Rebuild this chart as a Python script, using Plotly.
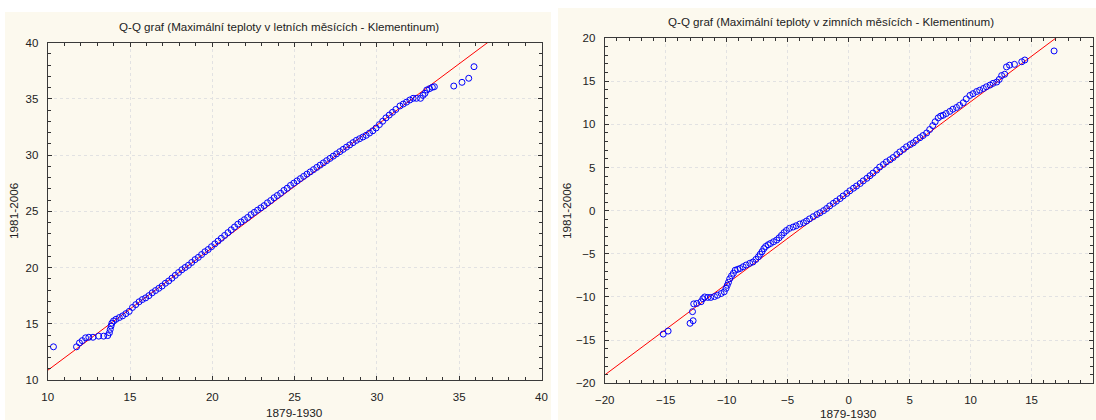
import plotly.graph_objects as go

# ---------------- data ----------------
summer_x = [10.35, 11.75, 11.93, 12.1, 12.3, 12.5, 12.75, 13.1, 13.4, 13.65, 13.75, 13.8, 13.85, 13.9,
            14.0, 14.15, 14.35, 14.55, 14.75, 14.95, 15.15, 15.35, 15.55, 15.75, 15.95, 16.15, 16.35,
            16.55, 16.75, 16.95, 17.15, 17.35, 17.55, 17.75, 17.95, 18.15, 18.35, 18.55, 18.75, 18.95,
            19.15, 19.35, 19.55, 19.75, 19.95, 20.15, 20.35, 20.55, 20.75, 20.95, 21.15, 21.35, 21.55,
            21.75, 21.95, 22.15, 22.35, 22.55, 22.75, 22.95, 23.15, 23.35, 23.55, 23.75, 23.95, 24.15,
            24.35, 24.55, 24.75, 24.95, 25.15, 25.35, 25.55, 25.75, 25.95, 26.15, 26.35, 26.55, 26.75,
            26.95, 27.15, 27.35, 27.55, 27.75, 27.95, 28.15, 28.35, 28.55, 28.75, 28.95, 29.15, 29.35,
            29.55, 29.75, 29.95, 30.15, 30.35, 30.55, 30.75, 30.95, 31.15, 31.4, 31.6, 31.8, 32.0,
            32.2, 32.4, 32.65, 32.8, 32.92, 33.03, 33.2, 33.37, 33.49, 34.67, 35.17, 35.58, 35.9]
summer_y = [12.95, 12.95, 13.3, 13.5, 13.75, 13.8, 13.8, 13.9, 13.9, 13.95, 14.2, 14.5, 14.8, 15.05,
            15.25, 15.4, 15.55, 15.7, 15.9, 16.1, 16.45, 16.7, 16.95, 17.15, 17.3, 17.5, 17.75,
            17.95, 18.15, 18.35, 18.6, 18.8, 19.05, 19.3, 19.55, 19.8, 20.0, 20.2, 20.45, 20.7,
            20.9, 21.15, 21.4, 21.6, 21.85, 22.1, 22.35, 22.6, 22.85, 23.1, 23.35, 23.6, 23.85,
            24.05, 24.25, 24.45, 24.7, 24.9, 25.1, 25.3, 25.5, 25.75, 25.95, 26.2, 26.4, 26.6,
            26.85, 27.05, 27.3, 27.5, 27.7, 27.9, 28.1, 28.3, 28.5, 28.7, 28.9, 29.1, 29.3,
            29.5, 29.7, 29.9, 30.1, 30.3, 30.5, 30.7, 30.9, 31.1, 31.3, 31.45, 31.6, 31.75,
            31.95, 32.15, 32.4, 32.7, 33.0, 33.3, 33.55, 33.8, 34.05, 34.36, 34.53, 34.7, 34.89,
            35.04, 35.04, 35.04, 35.3, 35.48, 35.78, 35.9, 36.02, 36.07, 36.13, 36.46, 36.82, 37.85]

winter_x = [-15.2, -14.8, -13.0, -12.75, -12.8, -12.7, -12.45, -12.1, -11.95, -11.8, -11.55, -11.3,
            -11.0, -10.75, -10.45, -10.2, -10.05, -9.95, -9.85, -9.75, -9.6, -9.45, -9.3, -9.1, -8.9,
            -8.65, -8.4, -8.1, -7.85, -7.6, -7.4, -7.25, -7.1, -6.95, -6.8, -6.6, -6.4, -6.15, -5.9,
            -5.7, -5.5, -5.3, -5.1, -4.85, -4.55, -4.3, -4.0, -3.7, -3.45, -3.2, -2.9, -2.6, -2.35,
            -2.05, -1.8, -1.55, -1.25, -1.0, -0.7, -0.45, -0.15, 0.1, 0.4, 0.65, 0.95, 1.2, 1.5,
            1.75, 2.0, 2.3, 2.55, 2.85, 3.1, 3.4, 3.65, 3.95, 4.2, 4.5, 4.75, 5.05, 5.3, 5.55, 5.85,
            6.1, 6.4, 6.65, 6.9, 7.1, 7.35, 7.55, 7.75, 8.0, 8.3, 8.55, 8.85, 9.1, 9.4, 9.65, 9.95,
            10.2, 10.5, 10.75, 11.05, 11.3, 11.6, 11.85, 12.15, 12.35, 12.55, 12.8, 12.95, 13.2,
            13.6, 14.2, 14.45, 16.85]
winter_y = [-14.3, -13.95, -13.05, -12.75, -11.7, -10.8, -10.75, -10.55, -10.2, -10.0, -10.05, -10.05,
            -9.95, -9.8, -9.6, -9.4, -9.0, -8.65, -8.3, -7.9, -7.55, -7.25, -6.9, -6.8, -6.7,
            -6.5, -6.3, -6.1, -5.95, -5.65, -5.35, -5.05, -4.75, -4.4, -4.15, -3.95, -3.8, -3.6, -3.4,
            -3.15, -2.85, -2.55, -2.3, -2.05, -1.9, -1.75, -1.55, -1.4, -1.2, -0.95, -0.7, -0.45, -0.25,
            0.0, 0.25, 0.55, 0.85, 1.1, 1.4, 1.7, 2.0, 2.3, 2.6, 2.85, 3.15, 3.45, 3.75,
            4.05, 4.35, 4.7, 5.05, 5.35, 5.65, 5.9, 6.15, 6.5, 6.8, 7.1, 7.4, 7.65, 7.85, 8.15, 8.45,
            8.7, 9.0, 9.4, 9.85, 10.3, 10.75, 10.95, 11.05, 11.25, 11.5, 11.75, 11.95, 12.2, 12.5, 12.95, 13.35,
            13.55, 13.8, 13.95, 14.15, 14.35, 14.55, 14.75, 14.9, 15.2, 15.65, 15.8, 16.65, 16.85,
            16.95, 17.25, 17.45, 18.5]

# reference lines (intercept, slope)
summer_line = (-0.04, 1.09)
winter_line = (2.06, 1.055)

summer_range = [10, 40]
winter_range = [-20, 20]
summer_ticks = [10, 15, 20, 25, 30, 35, 40]
winter_ticks = [-20, -15, -10, -5, 0, 5, 10, 15, 20]

title_left = "Q-Q graf (Maximální teploty v letních měsících - Klementinum)"
title_right = "Q-Q graf (Maximální teploty v zimních měsících - Klementinum)"
xlab = "1879-1930"
ylab = "1981-2006"

# ---------------- figure ----------------
W, H = 1096, 420
FONT = "Liberation Sans, Arial, sans-serif"
CREAM = "#FCF9EE"
BLUE = "#0000FF"
RED = "#FF0000"
TXT = "#222222"

fig = go.Figure()

def px_x(p):
    return p / W

def px_y(p):
    return 1 - p / H

panels = [
    dict(xs=summer_x, ys=summer_y, line=summer_line, rng=summer_range, ticks=summer_ticks,
         xa="x", ya="y", xdom=[px_x(47.7), px_x(541.5)], ydom=[px_y(380), px_y(42.5)]),
    dict(xs=winter_x, ys=winter_y, line=winter_line, rng=winter_range, ticks=winter_ticks,
         xa="x2", ya="y2", xdom=[px_x(604.7), px_x(1092.5)], ydom=[px_y(383.3), px_y(38)]),
]

for i, p in enumerate(panels):
    b, m = p["line"]
    lx = [p["rng"][0], p["rng"][1]]
    ly = [b + m * v for v in lx]
    fig.add_trace(go.Scatter(x=lx, y=ly, mode="lines", line=dict(color=RED, width=1),
                             xaxis=p["xa"], yaxis=p["ya"], showlegend=False, hoverinfo="skip"))
    fig.add_trace(go.Scatter(x=p["xs"], y=p["ys"], mode="markers",
                             marker=dict(symbol="circle-open", size=6, color=BLUE,
                                         line=dict(width=1, color=BLUE)),
                             xaxis=p["xa"], yaxis=p["ya"], showlegend=False, cliponaxis=True))

def axis(dom, rng, ticks, anchor):
    return dict(domain=dom, range=rng, anchor=anchor, tickvals=ticks, ticks="inside", ticklen=4,
                tickcolor="#333333", showline=True, linecolor="#3a3a3a", linewidth=1, mirror="ticks",
                showgrid=True, gridcolor="#e2e2e2", griddash="dot", gridwidth=1, zeroline=False,
                automargin=False,
                tickfont=dict(family=FONT, size=11.5, color=TXT), ticklabelstandoff=6,
                minor=dict(dtick=1, ticks="inside", ticklen=3, tickcolor="#333333", showgrid=False))

def note(text, x, y, size, angle=0):
    return dict(text=text, x=px_x(x), y=px_y(y), xref="paper", yref="paper", showarrow=False,
                textangle=angle, font=dict(family=FONT, size=size, color=TXT),
                xanchor="center", yanchor="middle")

fig.update_layout(
    template="none",
    width=W, height=H, margin=dict(l=0, r=0, t=0, b=0, pad=0, autoexpand=False),
    paper_bgcolor="white", plot_bgcolor="white",
    xaxis=axis(panels[0]["xdom"], summer_range, summer_ticks, "y"),
    yaxis=axis(panels[0]["ydom"], summer_range, summer_ticks, "x"),
    xaxis2=axis(panels[1]["xdom"], winter_range, winter_ticks, "y2"),
    yaxis2=axis(panels[1]["ydom"], winter_range, winter_ticks, "x2"),
    shapes=[
        dict(type="rect", xref="paper", yref="paper", x0=px_x(5), x1=px_x(551), y0=0, y1=px_y(12),
             fillcolor=CREAM, line=dict(width=0), layer="below"),
        dict(type="rect", xref="paper", yref="paper", x0=px_x(558), x1=1, y0=0, y1=px_y(8),
             fillcolor=CREAM, line=dict(width=0), layer="below"),
    ],
    annotations=[
        note(title_left, 279, 26, 11.6),
        note(title_right, 831, 21, 11.6),
        note(xlab, 294.6, 413, 11.8),
        note(xlab, 848.6, 414, 11.8),
        note(ylab, 14, 211, 11.8, -90),
        note(ylab, 567, 211, 11.8, -90),
    ],
)

fig.write_html("out.html")
